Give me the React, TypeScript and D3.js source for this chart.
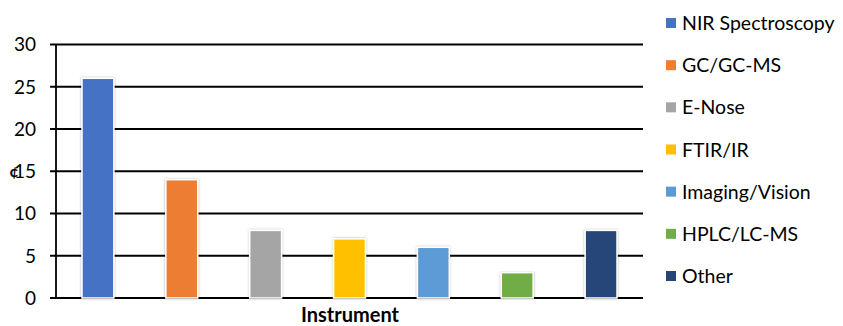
import React from "react";
import * as d3 from "d3";

const categories = ["NIR Spectroscopy", "GC/GC-MS", "E-Nose", "FTIR/IR", "Imaging/Vision", "HPLC/LC-MS", "Other"];
const values = [26, 14, 8, 7, 6, 3, 8];
const colors = ["#4472C4", "#ED7D31", "#A5A5A5", "#FFC000", "#5B9BD5", "#70AD47", "#264478"];
const yTicks = [0, 5, 10, 15, 20, 25, 30];
const xTitle = "Instrument";

const W = 843, H = 326;
const FONT = "Lato, 'Open Sans', sans-serif";

export default function App() {
  const x = d3.scaleBand<string>().domain(categories).range([56, 643]).paddingInner(0.62).paddingOuter(0.31);
  const y = d3.scaleLinear().domain([0, 30]).range([298, 44.5]);
  const legendY = d3.scalePoint<string>().domain(categories).range([23, 276]);
  return (
    <svg width={W} height={H} style={{ position: "absolute", left: 0, top: 0 }}>
      <defs>
        <filter id="sh" x="-20%" y="-5%" width="140%" height="110%">
          <feDropShadow dx="0" dy="0" stdDeviation="1.2" floodColor="#000" floodOpacity="0.35" />
        </filter>
      </defs>
      <rect width={W} height={H} fill="#fff" />
      {yTicks.map((t) => (
        <g key={t}>
          <line x1={50} x2={643} y1={y(t)} y2={y(t)} stroke="#000" strokeWidth={1.8} />
          <text x={36} y={y(t)} dy="0.36em" textAnchor="end" fontFamily={FONT} fontSize={19} fill="#000">{t}</text>
        </g>
      ))}
      <line x1={56} x2={56} y1={y(30)} y2={y(0)} stroke="#000" strokeWidth={1.8} />
      <text x={14} y={y(15)} dy="0.36em" textAnchor="middle" fontFamily={FONT} fontWeight="bold" fontSize={16} fill="#000">¢</text>
      {categories.map((c, i) => (
        <rect key={c} x={x(c)} y={y(values[i])} width={x.bandwidth()} height={y(0) - y(values[i])}
          fill={colors[i]} stroke="#fff" strokeWidth={1.5} filter="url(#sh)" />
      ))}
      <text x={350} y={322} textAnchor="middle" fontFamily={FONT} fontWeight="bold" fontSize={20} fill="#000">{xTitle}</text>
      {categories.map((c, i) => (
        <g key={c} transform={`translate(666,${legendY(c)})`}>
          <rect x={0} y={-5} width={10} height={10} fill={colors[i]} />
          <text x={16} y={0} dy="0.36em" fontFamily={FONT} fontSize={19.5} fill="#000">{c}</text>
        </g>
      ))}
    </svg>
  );
}
